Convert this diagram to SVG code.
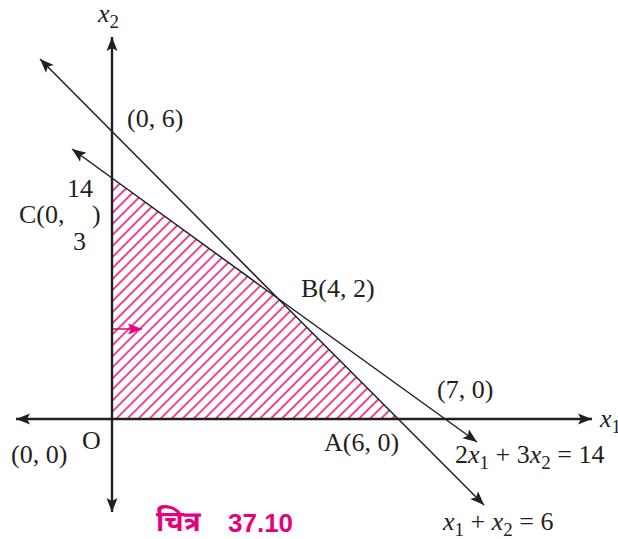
<svg xmlns="http://www.w3.org/2000/svg" width="618" height="539" viewBox="0 0 618 539">
  <style>
    .lbl { font-family: "Liberation Serif", "Times New Roman", serif; font-size: 26px; fill: #231f20; }
    .it { font-style: italic; }
    .sub { font-size: 19px; }
    .ax { stroke: #231f20; stroke-width: 2.4; fill: none; }
    .cl { stroke: #231f20; stroke-width: 1.5; fill: none; }
    .cap { font-family: "Liberation Sans", Arial, sans-serif; font-weight: bold; font-size: 26px; fill: #e5007e; }
    .dev { font-family: "Noto Sans Devanagari", "Lohit Devanagari", "FreeSans", "Noto Sans", sans-serif; font-weight: bold; font-size: 28px; fill: #e5007e; }
  </style>
  <defs>
    <marker id="ah" markerUnits="userSpaceOnUse" markerWidth="16" markerHeight="12" refX="14" refY="6" orient="auto">
      <path d="M0,0.5 L14,6 L0,11.5 L3,6 z" fill="#231f20"/>
    </marker>
    <marker id="ahp" markerUnits="userSpaceOnUse" markerWidth="16" markerHeight="12" refX="14" refY="6" orient="auto">
      <path d="M0,0.5 L14,6 L0,11.5 L3,6 z" fill="#e5007e"/>
    </marker>
    <pattern id="hatch" patternUnits="userSpaceOnUse" width="7.8" height="7.8" patternTransform="rotate(-45)">
      <line x1="0" y1="3.9" x2="7.8" y2="3.9" stroke="#e5197f" stroke-width="1.6"/>
    </pattern>
  </defs>

  <g id="feasible-region">
    <polygon points="112,419 112,178.5 278,298.5 398.4,419" fill="url(#hatch)"/>
    <line x1="113" y1="329" x2="142" y2="329" stroke="#e5007e" stroke-width="1.5" marker-end="url(#ahp)"/>
  </g>

  <g id="connectors">
    <line id="x-axis-right" class="ax" x1="112" y1="419" x2="592" y2="419" marker-end="url(#ah)"/>
    <line id="x-axis-left" class="ax" x1="112" y1="419" x2="16" y2="419" marker-end="url(#ah)"/>
    <line id="y-axis-up" class="ax" x1="112" y1="419" x2="112" y2="37" marker-end="url(#ah)"/>
    <line id="y-axis-down" class="ax" x1="112" y1="419" x2="112" y2="512" marker-end="url(#ah)"/>
    <line id="line1-a" class="cl" x1="278" y1="298.5" x2="40" y2="59" marker-end="url(#ah)"/>
    <line id="line1-b" class="cl" x1="278" y1="298.5" x2="484" y2="505" marker-end="url(#ah)"/>
    <line id="line2-a" class="cl" x1="278" y1="298.5" x2="72" y2="149" marker-end="url(#ah)"/>
    <line id="line2-b" class="cl" x1="278" y1="298.5" x2="477" y2="442" marker-end="url(#ah)"/>
  </g>

  <g id="axis-labels">
    <text class="lbl" x="98" y="22"><tspan class="it">x</tspan><tspan class="sub" dy="6">2</tspan></text>
    <text class="lbl" x="600" y="427"><tspan class="it">x</tspan><tspan class="sub" dy="6">1</tspan></text>
    <text class="lbl" x="82" y="449">O</text>
    <text class="lbl" x="11" y="463">(0, 0)</text>
  </g>

  <g id="point-labels">
    <text class="lbl" x="127" y="127">(0, 6)</text>
    <text class="lbl" x="67" y="197">14</text>
    <text class="lbl" x="19" y="223">C(0,</text>
    <text class="lbl" x="92" y="223">)</text>
    <text class="lbl" x="73" y="250">3</text>
    <text class="lbl" x="301" y="297">B(4, 2)</text>
    <text class="lbl" x="437" y="398">(7, 0)</text>
    <text class="lbl" x="324" y="451">A(6, 0)</text>
  </g>

  <g id="equation-labels">
    <text class="lbl" x="455" y="463">2<tspan class="it">x</tspan><tspan class="sub" dy="6">1</tspan><tspan dy="-6"> + 3</tspan><tspan class="it">x</tspan><tspan class="sub" dy="6">2</tspan><tspan dy="-6"> = 14</tspan></text>
    <text class="lbl" x="443" y="530"><tspan class="it">x</tspan><tspan class="sub" dy="6">1</tspan><tspan dy="-6"> + </tspan><tspan class="it">x</tspan><tspan class="sub" dy="6">2</tspan><tspan dy="-6"> = 6</tspan></text>
  </g>

  <g id="caption">
    <text class="dev" x="156" y="531">चित्र</text>
    <text class="cap" x="228" y="532">37.10</text>
  </g>
</svg>
